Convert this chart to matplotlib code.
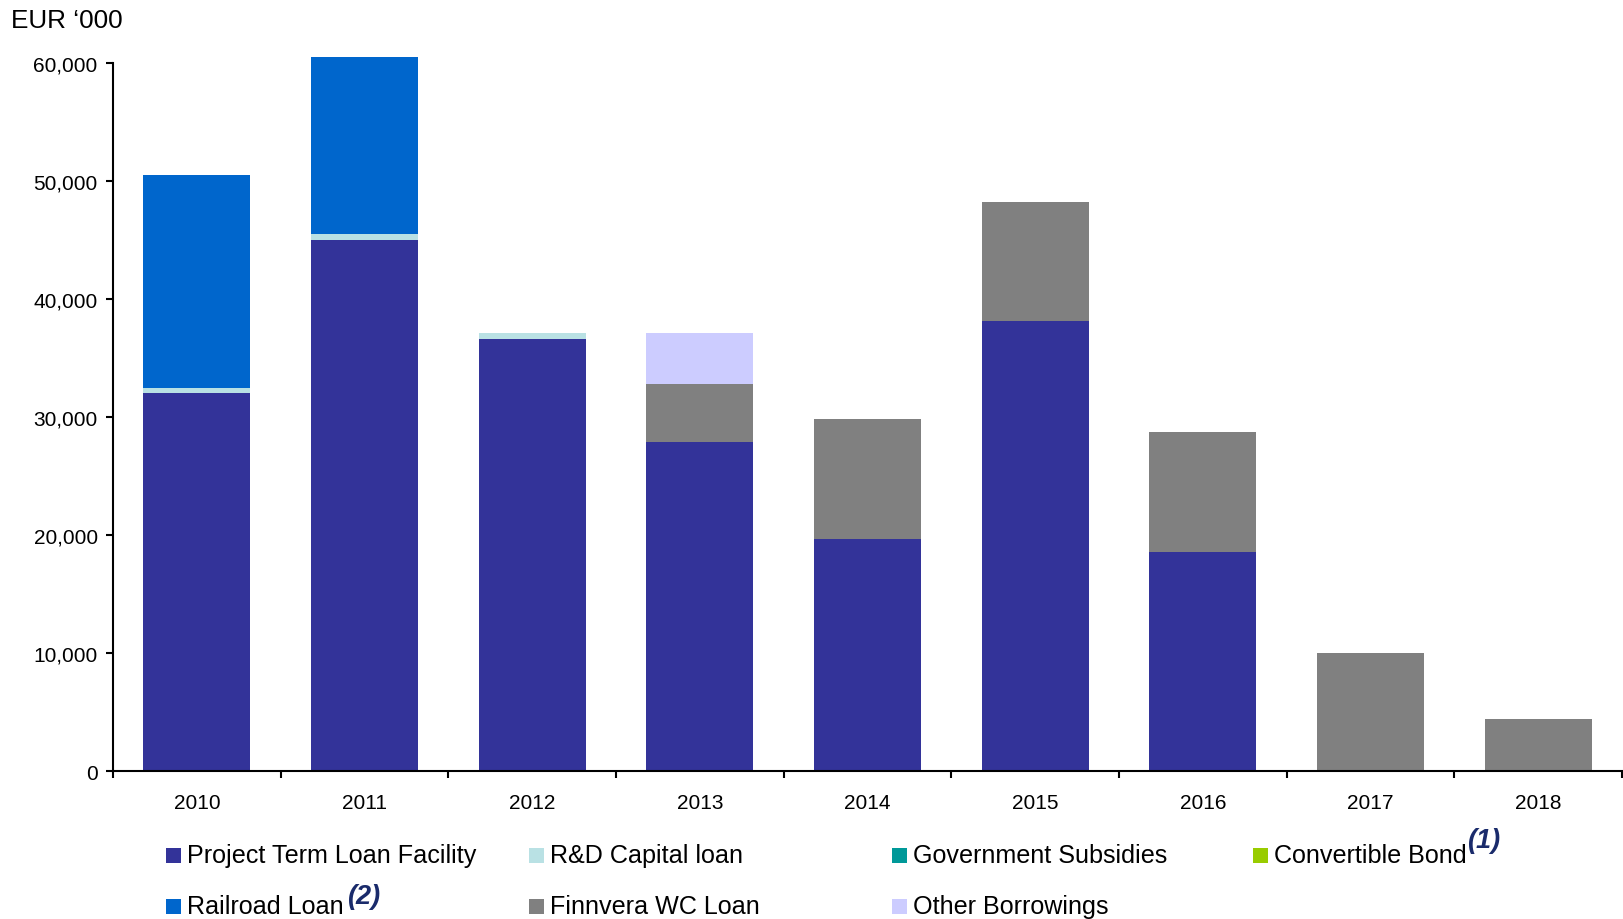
import matplotlib
matplotlib.use("Agg")
import matplotlib.pyplot as plt
from matplotlib.patches import Rectangle
from matplotlib.ticker import FuncFormatter, FixedLocator
import numpy as np

plt.rcParams['font.family'] = ['Liberation Sans', 'DejaVu Sans']

years = ["2010", "2011", "2012", "2013", "2014", "2015", "2016", "2017", "2018"]
series_names = ["Project Term Loan Facility", "R&D Capital loan", "Government Subsidies",
                "Convertible Bond", "Railroad Loan", "Finnvera WC Loan", "Other Borrowings"]
project_term = [32000, 45000, 36600, 27900, 19700, 38100, 18600, 0, 0]
rd_capital = [500, 500, 500, 0, 0, 0, 0, 0, 0]
gov_subsidies = [0, 0, 0, 0, 0, 0, 0, 0, 0]
convertible_bond = [0, 0, 0, 0, 0, 0, 0, 0, 0]
railroad = [18000, 15000, 0, 0, 0, 0, 0, 0, 0]
finnvera = [0, 0, 0, 4900, 10100, 10100, 10100, 10000, 4400]
other_borrowings = [0, 0, 0, 4300, 0, 0, 0, 0, 0]
series_values = [project_term, rd_capital, gov_subsidies, convertible_bond,
                 railroad, finnvera, other_borrowings]
colors = ["#333399", "#B9E1E4", "#009999", "#99CC00", "#0066CC", "#808080", "#CCCCFF"]
yticks = [0, 10000, 20000, 30000, 40000, 50000, 60000]

W, H = 1623, 920
fig = plt.figure(figsize=(W / 100, H / 100), dpi=100)
ax = fig.add_axes([113 / W, 1 - 772 / H, 1509 / W, (772 - 64) / H])

x = np.arange(len(years))
bottom = np.zeros(len(years))
for vals, c in zip(series_values, colors):
    v = np.array(vals, dtype=float)
    ax.bar(x, v, bottom=bottom, width=0.64, color=c, linewidth=0, clip_on=False, zorder=2)
    bottom += v

ax.set_xlim(-0.5, len(years) - 0.5)
ax.set_ylim(0, 60000)
for s in ["top", "right"]:
    ax.spines[s].set_visible(False)
for s in ["left", "bottom"]:
    ax.spines[s].set_linewidth(1.5)
    ax.spines[s].set_color("black")

ax.set_yticks(yticks)
ax.yaxis.set_major_formatter(FuncFormatter(lambda v, p: f"{int(v):,}"))
ax.tick_params(axis="y", direction="out", length=5, width=1.5, pad=6, labelsize=15)

ax.set_xticks(x)
ax.set_xticklabels(years)
ax.tick_params(axis="x", which="major", length=0, pad=15.5, labelsize=15)
ax.xaxis.set_minor_locator(FixedLocator(np.arange(-0.5, len(years), 1.0)))
ax.tick_params(axis="x", which="minor", direction="out", length=5, width=1.5)

fig.text(11 / W, 1 - 28 / H, "EUR \u2018000", fontsize=18.8, va="baseline", ha="left")

# Legend (drawn manually to keep uniform column spacing)
col_x = [166, 529, 892, 1253]
row_y = [856, 907]
positions = [(0, 0), (1, 0), (2, 0), (3, 0), (0, 1), (1, 1), (2, 1)]
for name, c, (ci, ri) in zip(series_names, colors, positions):
    mx, my = col_x[ci], row_y[ri]
    fig.patches.append(Rectangle((mx / W, 1 - (my + 7.5) / H), 15 / W, 15 / H,
                                 transform=fig.transFigure, facecolor=c, edgecolor="none"))
    fig.text((mx + 21) / W, 1 - my / H, name, fontsize=18.1, va="center", ha="left")

sup_color = "#1A2B6B"
fig.text(1467 / W, 1 - 841 / H, "(1)", fontsize=19.5, fontweight="bold", fontstyle="italic",
         color=sup_color, va="center", ha="left")
fig.text(347 / W, 1 - 897 / H, "(2)", fontsize=19.5, fontweight="bold", fontstyle="italic",
         color=sup_color, va="center", ha="left")

fig.savefig("out.png", dpi=100)
